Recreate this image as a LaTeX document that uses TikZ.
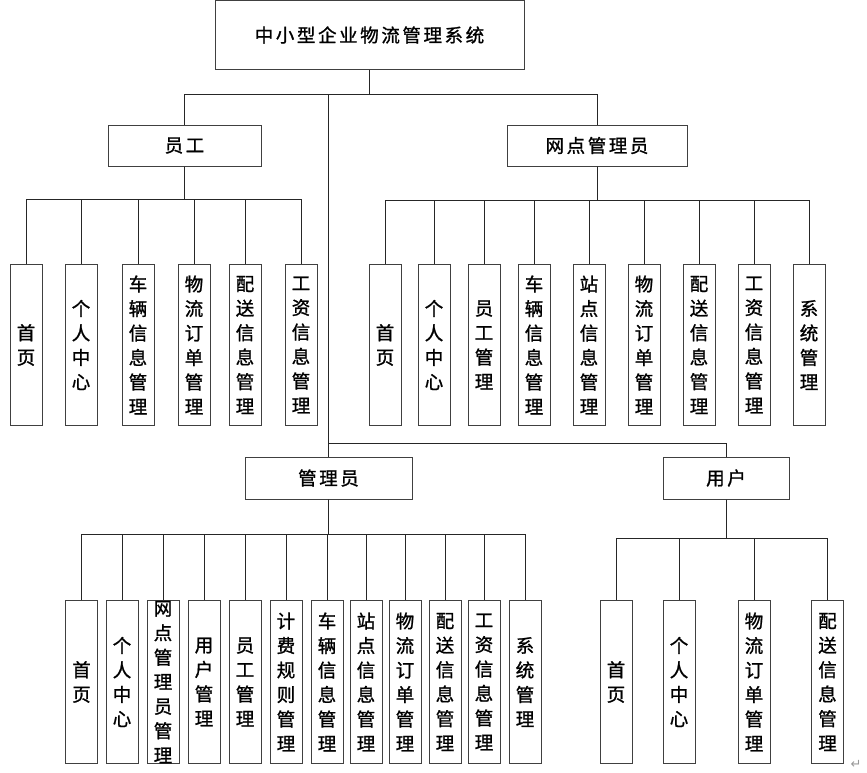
\documentclass[tikz,border=0pt]{standalone}
\usepackage{fontspec}
\newfontfamily\cjkh[LetterSpace=14,FakeBold=1.2]{Noto Sans CJK SC}
\newfontfamily\cjkv[FakeBold=1.2]{Noto Sans CJK SC}
\newfontfamily\djv{DejaVu Sans}
\begin{document}
\begin{tikzpicture}[x=1pt,y=-1pt,
  line/.style={draw=black!85, line width=0.9pt},
  hbox/.style={draw=black!75, line width=1pt, inner sep=0pt, font=\cjkh\fontsize{18.5}{18.5}\selectfont},
  vbox/.style={draw=black!75, line width=1pt, inner sep=0pt, anchor=north, minimum width=32pt, align=center, font=\cjkv\fontsize{18.5}{24.5}\selectfont},
  vtop/.style={vbox, minimum height=161pt},
  vbot/.style={vbox, minimum height=163pt},
  vtext/.style={inner sep=0pt, align=center, font=\cjkv\fontsize{18.5}{24.5}\selectfont}
]
\useasboundingbox (0,0) rectangle (867,772);

% top level
\node[hbox, minimum width=309pt, minimum height=69pt] (root) at (369.5,35) {中小型企业物流管理系统};
\node[hbox, minimum width=153pt, minimum height=41pt] (yg) at (184.5,145.5) {员工};
\node[hbox, minimum width=180pt, minimum height=41pt] (wd) at (597,145.5) {网点管理员};
\node[hbox, minimum width=167pt, minimum height=42pt] (adm) at (328.5,478) {管理员};
\node[hbox, minimum width=126pt, minimum height=42pt] (usr) at (726,478) {用户};

\coordinate (b1) at (369.5,94);
\coordinate (b2) at (328.5,443);
\draw[line] (root.south) -- (b1);
\draw[line] (b1) -| (yg.north);
\draw[line] (b1) -| (wd.north);
\draw[line] (b1) -| (adm.north);
\draw[line] (b2) -| (usr.north);

% 员工 children
\node[vtop] (y1) at (26,264) {首\\页};
\node[vtop] (y2) at (81,264) {个\\人\\中\\心};
\node[vtop] (y3) at (138,264) {车\\辆\\信\\息\\管\\理};
\node[vtop] (y4) at (194,264) {物\\流\\订\\单\\管\\理};
\node[vtop] (y5) at (245,264) {配\\送\\信\\息\\管\\理};
\node[vtop] (y6) at (301,264) {工\\资\\信\\息\\管\\理};
\foreach \c in {y1,y2,y3,y4,y5,y6}
  \draw[line] (yg.south) -- ++(0,33) -| (\c.north);

% 网点管理员 children
\node[vtop] (w1) at (385,264) {首\\页};
\node[vtop] (w2) at (434,264) {个\\人\\中\\心};
\node[vtop] (w3) at (484,264) {员\\工\\管\\理};
\node[vtop] (w4) at (534,264) {车\\辆\\信\\息\\管\\理};
\node[vtop] (w5) at (589,264) {站\\点\\信\\息\\管\\理};
\node[vtop] (w6) at (644,264) {物\\流\\订\\单\\管\\理};
\node[vtop] (w7) at (699,264) {配\\送\\信\\息\\管\\理};
\node[vtop] (w8) at (754,264) {工\\资\\信\\息\\管\\理};
\node[vtop] (w9) at (809,264) {系\\统\\管\\理};
\foreach \c in {w1,w2,w3,w4,w5,w6,w7,w8,w9}
  \draw[line] (wd.south) -- ++(0,34) -| (\c.north);

% 管理员 children
\node[vbot] (a1) at (81.5,600) {首\\页};
\node[vbot] (a2) at (122,600) {个\\人\\中\\心};
\node[vbot] (a3) at (163,600) {};
\node[vtext] at (a3.center) {网\\点\\管\\理\\员\\管\\理};
\node[vbot] (a4) at (204,600) {用\\户\\管\\理};
\node[vbot] (a5) at (245,600) {员\\工\\管\\理};
\node[vbot] (a6) at (286,600) {计\\费\\规\\则\\管\\理};
\node[vbot] (a7) at (327,600) {车\\辆\\信\\息\\管\\理};
\node[vbot] (a8) at (366,600) {站\\点\\信\\息\\管\\理};
\node[vbot] (a9) at (405,600) {物\\流\\订\\单\\管\\理};
\node[vbot] (a10) at (445,600) {配\\送\\信\\息\\管\\理};
\node[vbot] (a11) at (484,600) {工\\资\\信\\息\\管\\理};
\node[vbot] (a12) at (525,600) {系\\统\\管\\理};
\foreach \c in {a1,a2,a3,a4,a5,a6,a7,a8,a9,a10,a11,a12}
  \draw[line] (adm.south) -- ++(0,35) -| (\c.north);

% 用户 children
\node[vbot] (u1) at (616,600) {首\\页};
\node[vbot] (u2) at (679,600) {个\\人\\中\\心};
\node[vbot] (u3) at (754,600) {物\\流\\订\\单\\管\\理};
\node[vbot] (u4) at (827.5,600) {配\\送\\信\\息\\管\\理};
\foreach \c in {u1,u2,u3,u4}
  \draw[line] (usr.south) -- ++(0,39) -| (\c.north);

% paragraph mark
\node[text=black!40, font=\djv\fontsize{13}{13}\selectfont, inner sep=0pt] (pm) at (856,764) {↵};
\end{tikzpicture}
\end{document}
